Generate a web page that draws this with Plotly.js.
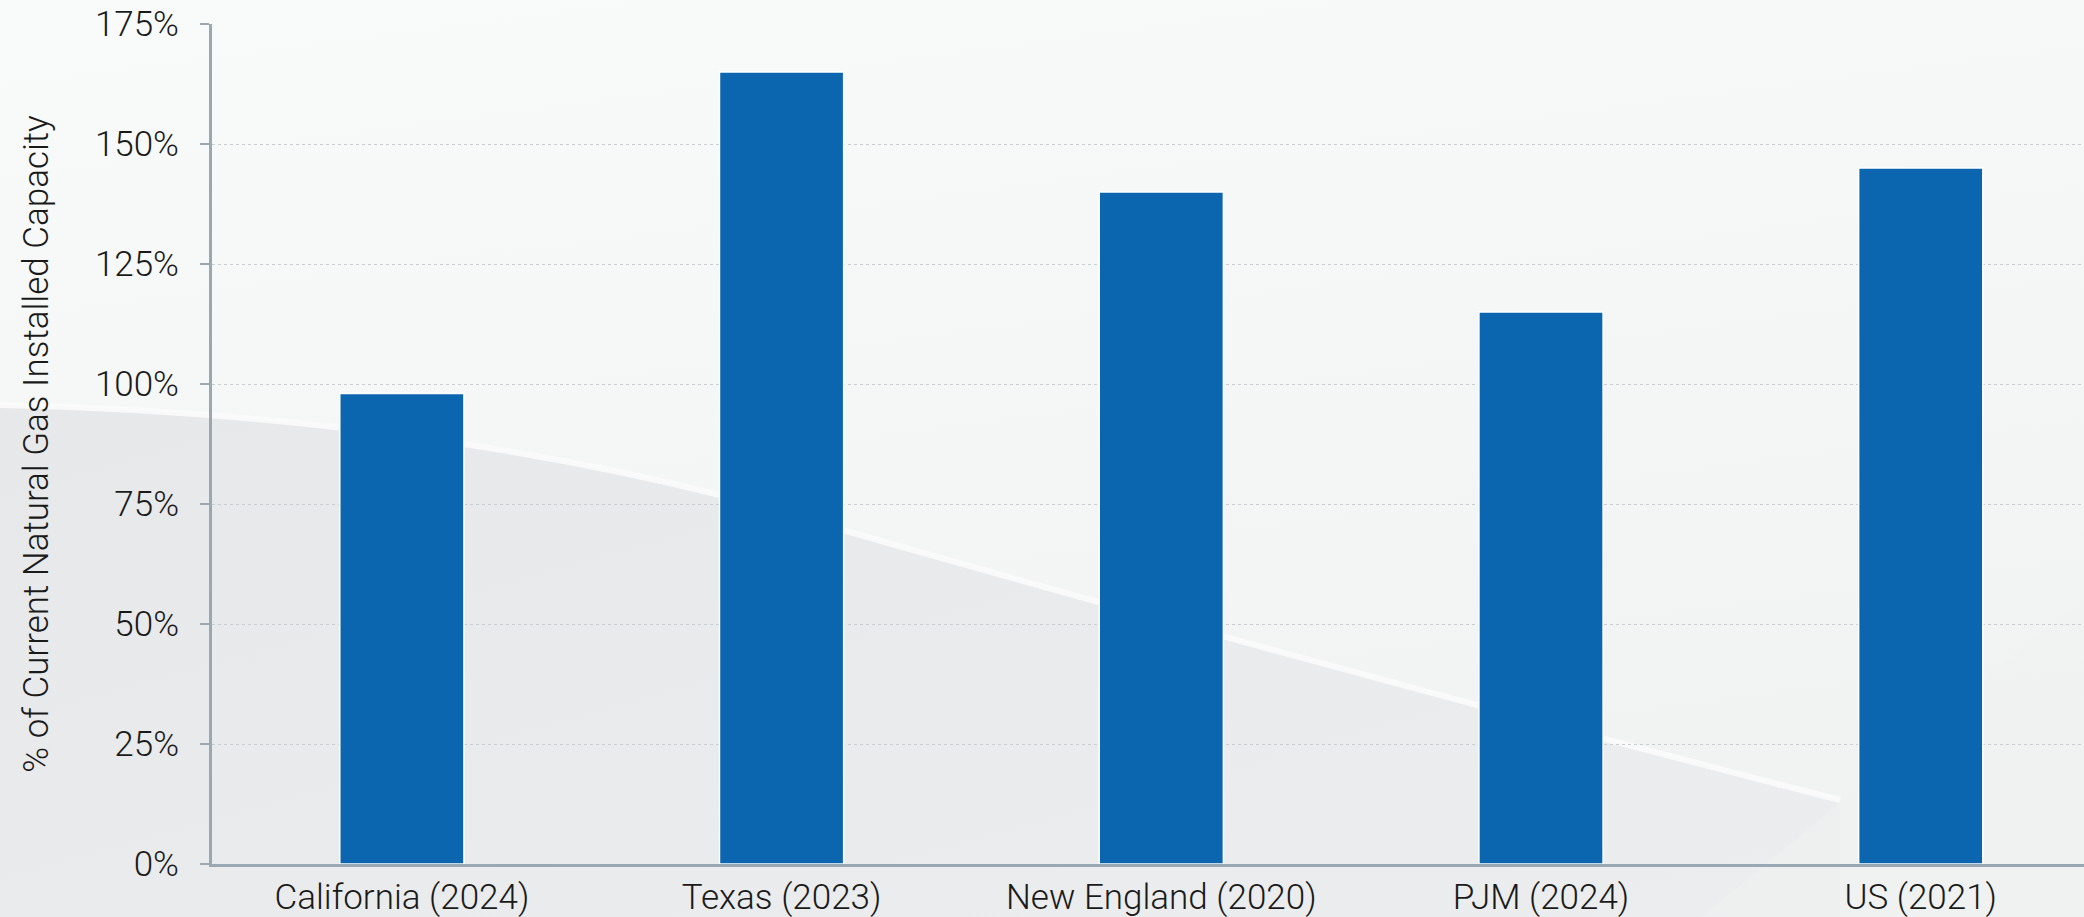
<!DOCTYPE html>
<html>
<head>
<meta charset="utf-8">
<script src="https://cdn.plot.ly/plotly-3.0.1.min.js"></script>
<style>
  html, body { margin: 0; padding: 0; width: 2084px; height: 917px; overflow: hidden; }
  body { background: #f5f6f6; position: relative; }
  #bg { position: absolute; left: 0; top: 0; width: 2084px; height: 917px; z-index: 0; }
  #chart { position: absolute; left: 0; top: 0; width: 2084px; height: 917px; z-index: 1; }
</style>
</head>
<body>
<svg id="bg" width="2084" height="917" viewBox="0 0 2084 917">
  <defs>
    <linearGradient id="g1" x1="0" y1="0" x2="0.3" y2="1">
      <stop offset="0" stop-color="#f9fafa"/>
      <stop offset="1" stop-color="#f1f2f2"/>
    </linearGradient>
    <linearGradient id="g2" x1="0" y1="0" x2="1" y2="1">
      <stop offset="0" stop-color="#e7e8e9"/>
      <stop offset="1" stop-color="#ecedee"/>
    </linearGradient>
  </defs>
  <rect x="0" y="0" width="2084" height="917" fill="url(#g1)"/>
  <path d="M0,405 C250,410 500,440 720,495 C1050,590 1450,700 1840,800 L1840,917 L0,917 Z" fill="url(#g2)"/>
  <path d="M0,405 C250,410 500,440 720,495 C1050,590 1450,700 1840,800" stroke="#fbfbfb" stroke-width="6" fill="none" opacity="0.9"/>
  <path d="M1700,917 L2084,917 L2084,600 C1950,700 1850,800 1700,917 Z" fill="#f0f1f1" opacity="0.6"/>
</svg>
<div id="chart"></div>
<script>
const categories = ["California (2024)", "Texas (2023)", "New England (2020)", "PJM (2024)", "US (2021)"];
const values = [98, 165, 140, 115, 145];
const tickValues = [0, 25, 50, 75, 100, 125, 150, 175];
const tickLabels = ["0%", "25%", "50%", "75%", "100%", "125%", "150%", "175%"];
const yTitle = "% of Current Natural Gas Installed Capacity";

const trace = {
  type: "bar",
  x: categories,
  y: values,
  width: 0.327,
  marker: { color: "#0b66af", line: { color: "#ffffff", width: 1.5 } },
  hoverinfo: "skip"
};

const fontFam = "Roboto, 'Liberation Sans', sans-serif";

const layout = {
  width: 2084,
  height: 917,
  margin: { l: 212, r: 0, t: 24, b: 53, pad: 0 },
  paper_bgcolor: "rgba(0,0,0,0)",
  plot_bgcolor: "rgba(0,0,0,0)",
  showlegend: false,
  bargap: 0,
  font: { family: fontFam, color: "#1a1a1a", size: 35 },
  xaxis: {
    type: "category",
    range: [-0.5, 4.43],
    showline: true,
    linecolor: "#9aa8b4",
    linewidth: 3,
    ticks: "",
    showgrid: false,
    zeroline: false,
    tickfont: { family: fontFam, size: 35, color: "#1a1a1a", weight: 300 },
    fixedrange: true
  },
  yaxis: {
    range: [0, 175],
    tickmode: "array",
    tickvals: tickValues,
    ticktext: tickLabels,
    showline: true,
    linecolor: "#9aa8b4",
    linewidth: 3,
    ticks: "outside",
    ticklen: 9,
    tickwidth: 2,
    tickcolor: "#9aa8b4",
    showgrid: true,
    gridcolor: "#c9ced3",
    griddash: "dot",
    gridwidth: 1,
    zeroline: false,
    tickfont: { family: fontFam, size: 35, color: "#1a1a1a", weight: 300 },
    ticklabelstandoff: 14,
    title: { text: yTitle, font: { family: fontFam, size: 35, color: "#1a1a1a", weight: 300 }, standoff: 36 },
    fixedrange: true
  }
};

Plotly.newPlot("chart", [trace], layout, { displayModeBar: false, staticPlot: true });
</script>
</body>
</html>
